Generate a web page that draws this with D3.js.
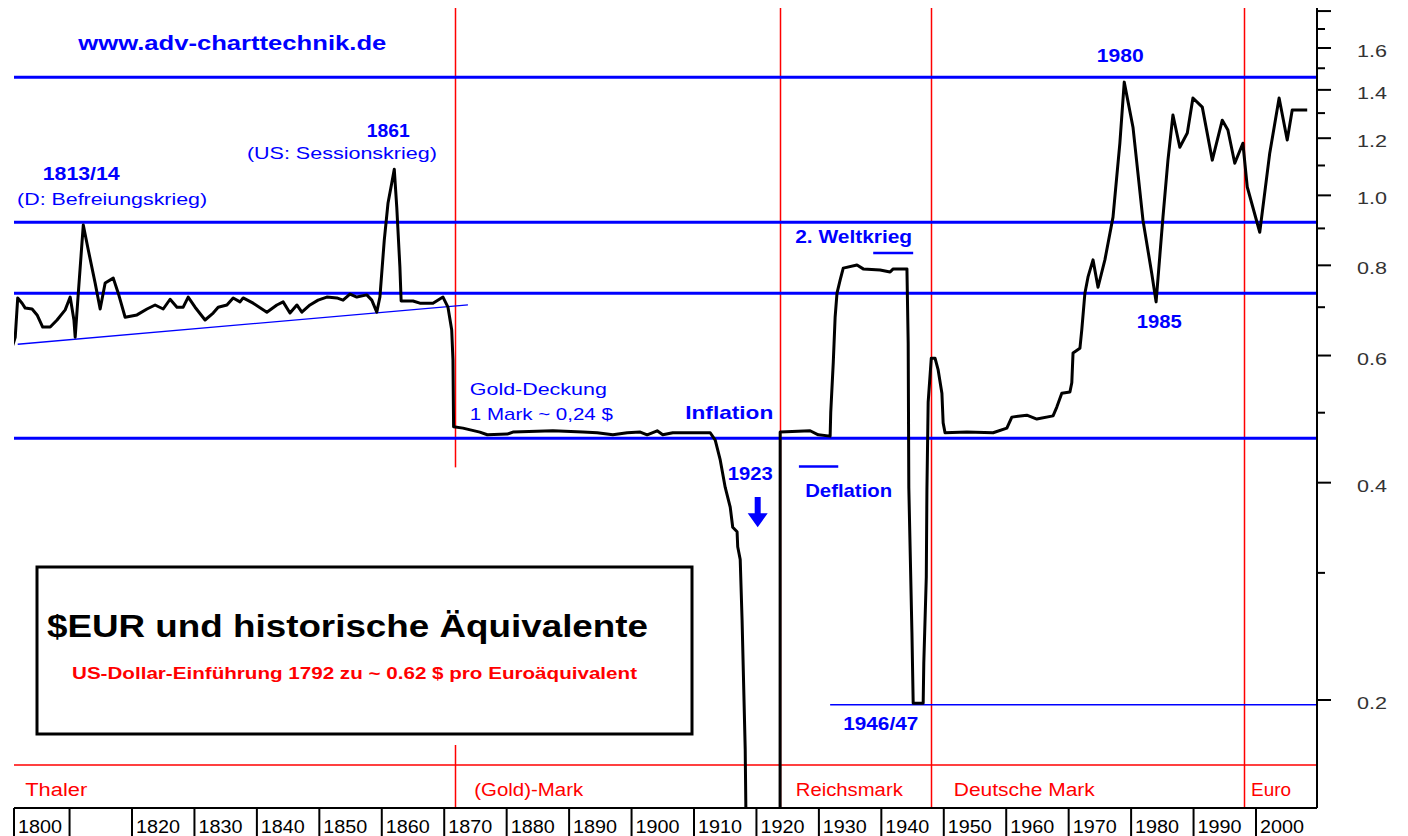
<!DOCTYPE html>
<html>
<head>
<meta charset="utf-8">
<script src="https://cdn.jsdelivr.net/npm/d3@7/dist/d3.min.js"></script>
<style>
  body { margin: 0; background: #fff; }
  text { font-family: "Liberation Sans", Arial, sans-serif; }
</style>
</head>
<body>
<div id="graph"></div>
<script>
//Exchange rate, USD per euro equivalent
const years = [
  1800.9, 1801.3, 1801.7, 1802.4, 1802.9, 1804.0, 1804.8, 1805.7, 1806.9, 1808.0,
  1809.3, 1810.1, 1810.7, 1810.9, 1811.4, 1812.2, 1813.0, 1814.1, 1814.9, 1815.7,
  1817.0, 1817.8, 1818.9, 1820.8, 1822.4, 1823.7, 1825.0, 1826.1, 1827.2, 1828.2,
  1829.0, 1830.1, 1831.7, 1833.0, 1833.8, 1835.2, 1836.2, 1837.3, 1837.8, 1839.4,
  1841.6, 1843.2, 1844.2, 1845.3, 1846.4, 1847.2, 1848.5, 1849.8, 1851.2, 1852.8,
  1853.8, 1854.9, 1856.0, 1857.6, 1858.4, 1859.2, 1859.7, 1860.4, 1861.0, 1861.6,
  1862.0, 1862.4, 1862.9, 1863.1, 1865.0, 1866.1, 1868.2, 1869.8, 1870.6, 1871.2,
  1871.4, 1871.5, 1873.0, 1875.7, 1876.9, 1880.1, 1881.0, 1887.4, 1892.2, 1894.5,
  1897.0, 1899.3, 1901.4, 1902.5, 1904.1, 1905.0, 1906.6, 1912.6, 1913.4, 1914.2,
  1915.0, 1915.8, 1916.2, 1916.9, 1917.0, 1917.4, 1917.7, 1918.2, 1918.5, 1923.7,
  1923.8, 1928.6, 1929.9, 1931.8, 1931.9, 1932.3, 1932.6, 1932.9, 1933.4, 1933.9,
  1936.1, 1937.1, 1939.8, 1941.4, 1941.9, 1944.1, 1944.3, 1944.4, 1944.9, 1945.1,
  1946.7, 1946.8, 1947.2, 1947.3, 1947.5, 1948.0, 1948.6, 1949.1, 1949.7, 1949.9,
  1950.2, 1953.7, 1957.9, 1960.1, 1960.9, 1963.3, 1964.9, 1967.5, 1968.1, 1968.9,
  1970.2, 1970.5, 1970.7, 1971.8, 1972.1, 1972.6, 1973.1, 1973.9, 1974.7, 1975.8,
  1977.1, 1978.2, 1978.9, 1980.3, 1981.9, 1983.3, 1984.0, 1985.1, 1985.9, 1986.7,
  1987.8, 1989.0, 1989.9, 1991.4, 1993.0, 1994.6, 1995.5, 1996.6, 1997.9, 1998.6,
  2000.6, 2002.2, 2003.7, 2005.0, 2005.8, 2008.2
];
const rates = [
  0.620, 0.636, 0.721, 0.709, 0.698, 0.696, 0.683, 0.657, 0.657, 0.672,
  0.694, 0.723, 0.672, 0.636, 0.732, 0.910, 0.840, 0.756, 0.696, 0.756,
  0.768, 0.732, 0.678, 0.683, 0.696, 0.705, 0.696, 0.718, 0.700, 0.700,
  0.723, 0.700, 0.672, 0.687, 0.700, 0.705, 0.721, 0.712, 0.721, 0.709,
  0.689, 0.705, 0.712, 0.687, 0.705, 0.689, 0.705, 0.716, 0.723, 0.721,
  0.716, 0.730, 0.723, 0.728, 0.716, 0.689, 0.723, 0.867, 0.976, 1.040,
  1.087, 0.963, 0.796, 0.714, 0.714, 0.709, 0.709, 0.723, 0.700, 0.651,
  0.591, 0.478, 0.476, 0.470, 0.466, 0.467, 0.470, 0.472, 0.470, 0.469,
  0.466, 0.469, 0.470, 0.466, 0.472, 0.466, 0.469, 0.469, 0.458, 0.430,
  0.394, 0.370, 0.347, 0.342, 0.326, 0.313, 0.258, 0.171, 0.100, 0.0001,
  0.470, 0.472, 0.466, 0.464, 0.501, 0.586, 0.678, 0.732, 0.763, 0.793,
  0.801, 0.791, 0.788, 0.783, 0.791, 0.791, 0.624, 0.394, 0.248, 0.198,
  0.198, 0.225, 0.296, 0.391, 0.517, 0.595, 0.595, 0.573, 0.532, 0.484,
  0.469, 0.470, 0.469, 0.476, 0.493, 0.496, 0.490, 0.495, 0.509, 0.532,
  0.534, 0.550, 0.605, 0.614, 0.651, 0.732, 0.771, 0.814, 0.746, 0.814,
  0.933, 1.181, 1.435, 1.243, 0.924, 0.780, 0.712, 0.933, 1.119, 1.292,
  1.166, 1.220, 1.364, 1.325, 1.119, 1.271, 1.232, 1.108, 1.181, 1.027,
  0.889, 1.144, 1.364, 1.193, 1.313, 1.313
];

//Horizontal support / resistance levels
const levels = [1.458, 0.918, 0.732, 0.461];
const trendYears = [1801.7, 1873.8];
const trendRates = [0.622, 0.705];
const lowStart = 1931.8;
const lowRate = 0.197;

//Currency eras
const eraNames = ["Thaler", "(Gold)-Mark", "Reichsmark", "Deutsche Mark", "Euro"];
const eraLabelYears = [1802.9, 1874.8, 1926.3, 1951.6, 1999.2];
const eraStarts = [1871.7, 1923.8, 1948.0, 1998.1];

//Axis ticks
const majorTicks = [0.2, 0.4, 0.6, 0.8, 1.0, 1.2, 1.4, 1.6, 1.8];
const minorTicks = [0.3, 0.5, 0.7, 0.9, 1.1, 1.3, 1.5, 1.7];
const tickLabels = ["0.2", "0.4", "0.6", "0.8", "1.0", "1.2", "1.4", "1.6"];
const decades = [1800, 1810, 1820, 1830, 1840, 1850, 1860, 1870, 1880, 1890, 1900,
                 1910, 1920, 1930, 1940, 1950, 1960, 1970, 1980, 1990, 2000];
const decadeLabels = ["1800", "", "1820", "1830", "1840", "1850", "1860", "1870", "1880", "1890", "1900",
                      "1910", "1920", "1930", "1940", "1950", "1960", "1970", "1980", "1990", "2000"];

//Annotations: text, year, rate
const notes = [
  ["www.adv-charttechnik.de", 1811.4, 1.590],
  ["1861", 1857.6, 1.205],
  ["(US: Sessionskrieg)", 1838.4, 1.123],
  ["1813/14", 1805.7, 1.050],
  ["(D: Befreiungskrieg)", 1801.6, 0.970],
  ["Gold-Deckung", 1874.1, 0.529],
  ["1 Mark ~ 0,24 $", 1874.1, 0.488],
  ["Inflation", 1908.6, 0.490],
  ["1923", 1915.4, 0.403],
  ["2. Weltkrieg", 1926.2, 0.859],
  ["Deflation", 1927.8, 0.382],
  ["1946/47", 1933.9, 0.182],
  ["1980", 1974.5, 1.530],
  ["1985", 1980.9, 0.655]
];
const title = "$EUR und historische Äquivalente";
const subtitle = "US-Dollar-Einführung 1792 zu ~ 0.62 $ pro Euroäquivalent";

//Display specifications
const W = 1408, H = 836;
const plot = {left: 14, right: 1317, top: 8, bottom: 808};
const band = 43;
const blue = "#0000ff", red = "#ff0000";

//Text styles for the annotations
const noteStyle = {
  "www.adv-charttechnik.de": {size: 20, bold: true, w: 308},
  "1861": {size: 19, bold: true, w: 43},
  "(US: Sessionskrieg)": {size: 17, bold: false, w: 190},
  "1813/14": {size: 19, bold: true, w: 77},
  "(D: Befreiungskrieg)": {size: 17, bold: false, w: 190},
  "Gold-Deckung": {size: 17, bold: false, w: 137},
  "1 Mark ~ 0,24 $": {size: 17, bold: false, w: 143},
  "Inflation": {size: 19, bold: true, w: 88},
  "1923": {size: 19, bold: true, w: 45},
  "2. Weltkrieg": {size: 19, bold: true, w: 117},
  "Deflation": {size: 19, bold: true, w: 87},
  "1946/47": {size: 19, bold: true, w: 75},
  "1980": {size: 19, bold: true, w: 47},
  "1985": {size: 19, bold: true, w: 45}
};
const eraWidths = [62, 109, 107, 141, 40];

//Scales
const x = d3.scaleLinear().domain([1820, 2000]).range([132, 1256]);
const y = d3.scaleLog().domain([0.2, 1.6]).range([700, 48]);

const svg = d3.select("#graph")
  .append("svg")
  .attr("width", W)
  .attr("height", H)
  .style("display", "block");

svg.append("defs").append("clipPath")
  .attr("id", "plotClip")
  .append("rect")
  .attr("x", plot.left)
  .attr("y", plot.top)
  .attr("width", plot.right - plot.left)
  .attr("height", plot.bottom - plot.top);

//Red era lines
const bandTop = plot.bottom - band;
svg.append("line")
  .attr("x1", plot.left).attr("x2", plot.right)
  .attr("y1", bandTop).attr("y2", bandTop)
  .attr("stroke", red).attr("stroke-width", 1.5);

svg.append("g")
  .selectAll("line")
  .data(eraStarts)
  .enter()
  .append("line")
  .attr("x1", d => Math.round(x(d)) + 0.5)
  .attr("x2", d => Math.round(x(d)) + 0.5)
  .attr("y1", plot.top)
  .attr("y2", plot.bottom)
  .attr("stroke", red)
  .attr("stroke-width", 1.5);

//white gap in the gold-mark line
svg.append("rect")
  .attr("x", Math.round(x(eraStarts[0])) - 2)
  .attr("y", y(0.42))
  .attr("width", 5)
  .attr("height", bandTop - y(0.42) - 20)
  .attr("fill", "#fff");

svg.append("g")
  .selectAll("text")
  .data(eraNames)
  .enter()
  .append("text")
  .attr("x", (d, i) => x(eraLabelYears[i]))
  .attr("y", plot.bottom - 12)
  .attr("fill", red)
  .style("font-size", "18px")
  .attr("textLength", (d, i) => eraWidths[i])
  .attr("lengthAdjust", "spacingAndGlyphs")
  .text(d => d);

//Blue levels
svg.append("g")
  .selectAll("line")
  .data(levels)
  .enter()
  .append("line")
  .attr("x1", plot.left)
  .attr("x2", plot.right)
  .attr("y1", d => y(d))
  .attr("y2", d => y(d))
  .attr("stroke", blue)
  .attr("stroke-width", 3);

svg.append("line")
  .attr("x1", x(trendYears[0])).attr("y1", y(trendRates[0]))
  .attr("x2", x(trendYears[1])).attr("y2", y(trendRates[1]))
  .attr("stroke", blue).attr("stroke-width", 1.3);

svg.append("line")
  .attr("x1", x(lowStart)).attr("x2", plot.right)
  .attr("y1", y(lowRate)).attr("y2", y(lowRate))
  .attr("stroke", blue).attr("stroke-width", 1.3);

//short marker bars
svg.append("line")
  .attr("x1", x(1938.7)).attr("x2", x(1945.1))
  .attr("y1", y(0.832)).attr("y2", y(0.832))
  .attr("stroke", blue).attr("stroke-width", 2.5);
svg.append("line")
  .attr("x1", x(1926.8)).attr("x2", x(1933.1))
  .attr("y1", y(0.421)).attr("y2", y(0.421))
  .attr("stroke", blue).attr("stroke-width", 2.5);

//Arrow below 1923
const ax = x(1920.2), aTop = y(0.382), aTip = y(0.347);
svg.append("path")
  .attr("d", "M" + (ax - 3) + "," + aTop + "V" + (aTip - 14) + "H" + (ax - 10) +
             "L" + ax + "," + aTip + "L" + (ax + 10) + "," + (aTip - 14) +
             "H" + (ax + 3) + "V" + aTop + "Z")
  .attr("fill", blue);

//Draw time series
const line = d3.line()
  .x((d, i) => x(years[i]))
  .y(d => y(d));

svg.append("path")
  .datum(rates)
  .attr("clip-path", "url(#plotClip)")
  .attr("fill", "none")
  .attr("stroke", "#000")
  .attr("stroke-width", 3)
  .attr("stroke-linejoin", "round")
  .attr("d", line);

//Annotations
svg.append("g")
  .selectAll("text")
  .data(notes)
  .enter()
  .append("text")
  .attr("x", d => x(d[1]))
  .attr("y", d => y(d[2]))
  .attr("fill", blue)
  .style("font-size", d => noteStyle[d[0]].size + "px")
  .style("font-weight", d => noteStyle[d[0]].bold ? "bold" : "normal")
  .attr("textLength", d => noteStyle[d[0]].w)
  .attr("lengthAdjust", "spacingAndGlyphs")
  .text(d => d[0]);

//Title box
const box = {x: 37, y: 567, w: 655, h: 167};
svg.append("rect")
  .attr("x", box.x).attr("y", box.y)
  .attr("width", box.w).attr("height", box.h)
  .attr("fill", "#fff")
  .attr("stroke", "#000")
  .attr("stroke-width", 3);

svg.append("text")
  .attr("x", box.x + 10)
  .attr("y", box.y + 70)
  .style("font-size", "31px")
  .style("font-weight", "bold")
  .attr("textLength", 601)
  .attr("lengthAdjust", "spacingAndGlyphs")
  .text(title);

svg.append("text")
  .attr("x", box.x + 35)
  .attr("y", box.y + 112)
  .attr("fill", red)
  .style("font-size", "17px")
  .style("font-weight", "bold")
  .attr("textLength", 565)
  .attr("lengthAdjust", "spacingAndGlyphs")
  .text(subtitle);

//Right Y axis
const yAxis = svg.append("g");
yAxis.append("line")
  .attr("x1", plot.right).attr("x2", plot.right)
  .attr("y1", plot.top).attr("y2", plot.bottom)
  .attr("stroke", "#000").attr("stroke-width", 2);

yAxis.selectAll(".major")
  .data(majorTicks)
  .enter()
  .append("line")
  .attr("x1", plot.right).attr("x2", plot.right + 14)
  .attr("y1", d => y(d)).attr("y2", d => y(d))
  .attr("stroke", "#000").attr("stroke-width", 2);

yAxis.selectAll(".minor")
  .data(minorTicks)
  .enter()
  .append("line")
  .attr("x1", plot.right).attr("x2", plot.right + 8)
  .attr("y1", d => y(d)).attr("y2", d => y(d))
  .attr("stroke", "#000").attr("stroke-width", 2);

yAxis.selectAll("text")
  .data(tickLabels)
  .enter()
  .append("text")
  .attr("x", plot.right + 40)
  .attr("y", d => y(+d) + 9)
  .attr("fill", "#333")
  .style("font-size", "17px")
  .attr("textLength", 30)
  .attr("lengthAdjust", "spacingAndGlyphs")
  .text(d => d);

//Bottom X axis
const xAxis = svg.append("g");
xAxis.append("line")
  .attr("x1", plot.left).attr("x2", plot.right)
  .attr("y1", plot.bottom).attr("y2", plot.bottom)
  .attr("stroke", "#000").attr("stroke-width", 2);

xAxis.selectAll("line.sep")
  .data(decades)
  .enter()
  .append("line")
  .attr("x1", d => Math.max(x(d), plot.left))
  .attr("x2", d => Math.max(x(d), plot.left))
  .attr("y1", plot.bottom).attr("y2", H)
  .attr("stroke", "#000").attr("stroke-width", 2);

xAxis.selectAll("text")
  .data(decadeLabels)
  .enter()
  .append("text")
  .attr("x", (d, i) => Math.max(x(decades[i]), plot.left) + 4)
  .attr("y", H - 3)
  .style("font-size", "18px")
  .attr("textLength", d => d ? 44 : 0)
  .attr("lengthAdjust", "spacingAndGlyphs")
  .text(d => d);
</script>
</body>
</html>
